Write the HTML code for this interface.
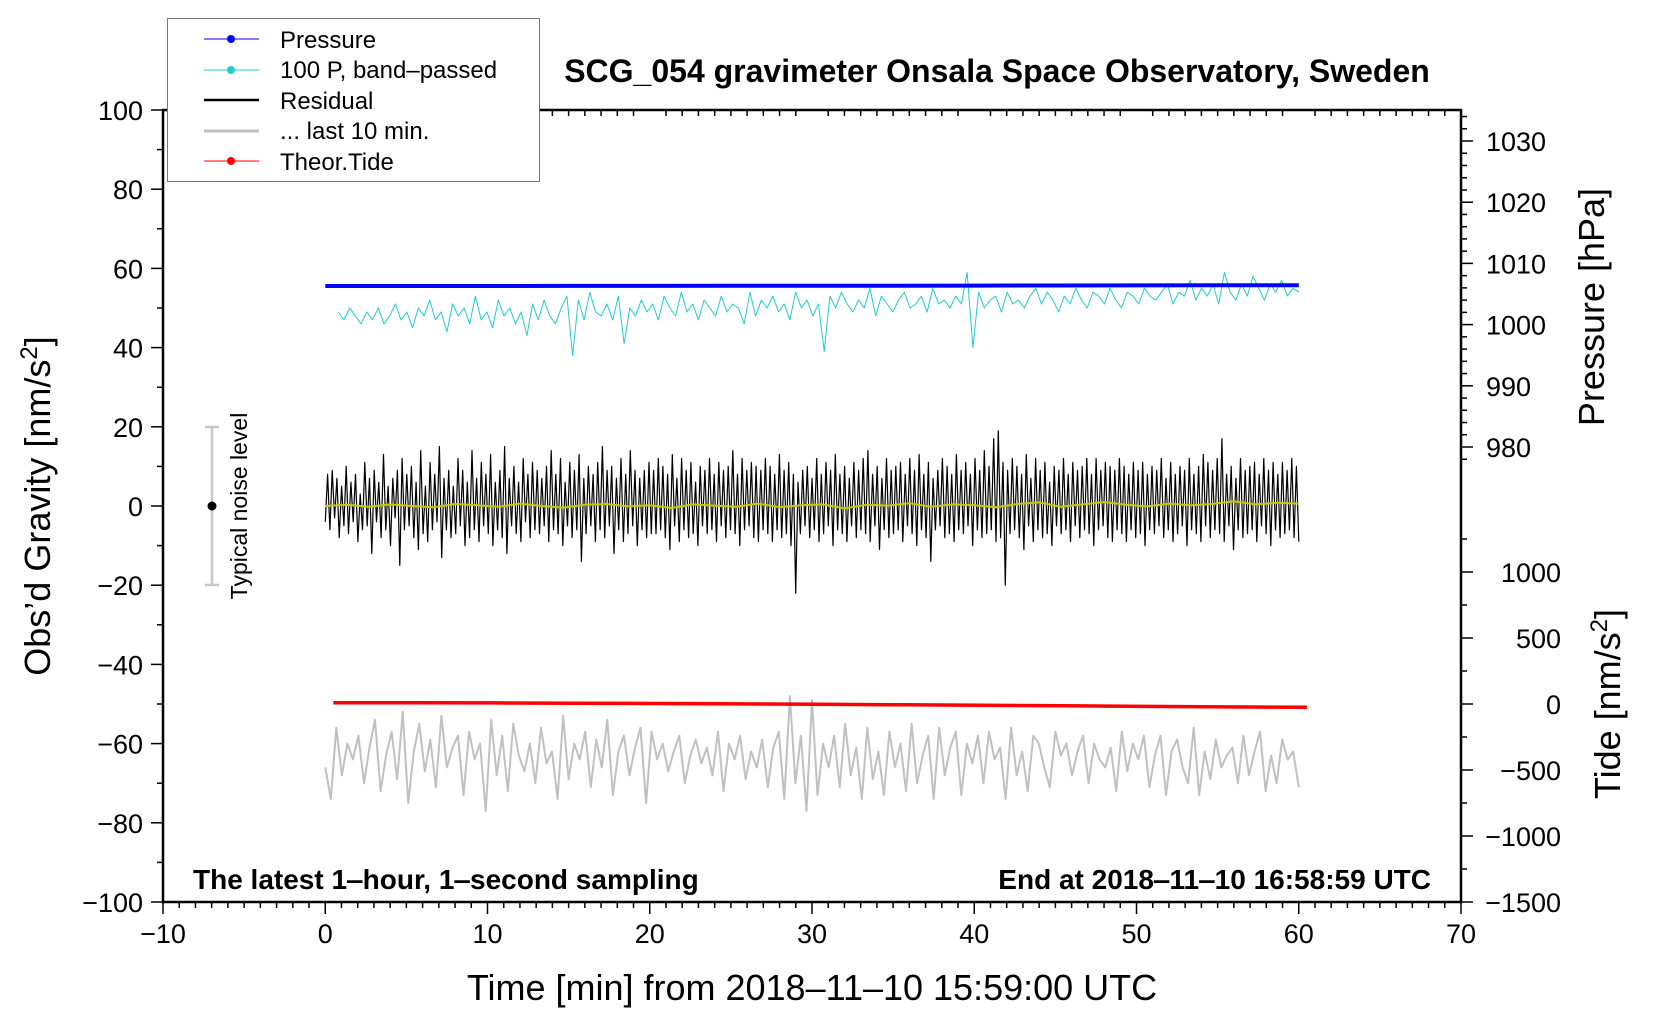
<!DOCTYPE html>
<html><head><meta charset="utf-8">
<style>
body{margin:0;background:#fff;}
svg{display:block;font-family:"Liberation Sans",sans-serif;}
</style></head>
<body>
<svg id="chart" width="1660" height="1020" viewBox="0 0 1660 1020">
<g id="marks"></g>
<g id="axes"></g>
<text x="997" y="82" font-size="32" font-weight="bold" text-anchor="middle">SCG_054 gravimeter Onsala Space Observatory, Sweden</text>
<text x="193" y="889" font-size="28" font-weight="bold">The latest 1‒hour, 1‒second sampling</text>
<text x="1431" y="889" font-size="28" font-weight="bold" text-anchor="end">End at 2018‒11‒10 16:58:59 UTC</text>
<text x="812" y="1000" font-size="36" text-anchor="middle">Time [min] from 2018‒11‒10 15:59:00 UTC</text>
<text transform="translate(50,506) rotate(-90)" font-size="36" text-anchor="middle">Obs’d Gravity [nm/s<tspan baseline-shift="super" font-size="24">2</tspan>]</text>
<text transform="translate(1604,307) rotate(-90)" font-size="36" text-anchor="middle">Pressure [hPa]</text>
<text transform="translate(1620,704) rotate(-90)" font-size="36" text-anchor="middle">Tide [nm/s<tspan baseline-shift="super" font-size="24">2</tspan>]</text>
<g>
<line x1="212" y1="427" x2="212" y2="585" stroke="#c8c8c8" stroke-width="2.5"/>
<line x1="205" y1="427" x2="219" y2="427" stroke="#c8c8c8" stroke-width="2.5"/>
<line x1="205" y1="585" x2="219" y2="585" stroke="#c8c8c8" stroke-width="2.5"/>
<circle cx="212" cy="506" r="4.5" fill="#000"/>
<text transform="translate(247,506) rotate(-90)" font-size="23" text-anchor="middle">Typical noise level</text>
</g>
<g>
<rect x="167.5" y="18.5" width="372" height="163" fill="#fff" stroke="#777" stroke-width="1"/>
<g><line x1="204" y1="39" x2="259" y2="39" stroke="#00f" stroke-width="1"/><circle cx="231" cy="39" r="4" fill="#00f"/><text x="280" y="48" font-size="24">Pressure</text></g>
<g><line x1="204" y1="70" x2="259" y2="70" stroke="#2cc" stroke-width="1"/><circle cx="231" cy="70" r="4" fill="#2cc"/><text x="280" y="78" font-size="24">100 P, band‒passed</text></g>
<g><line x1="204" y1="100" x2="259" y2="100" stroke="#000" stroke-width="2.5"/><text x="280" y="109" font-size="24">Residual</text></g>
<g><line x1="204" y1="131" x2="259" y2="131" stroke="#c0c0c0" stroke-width="3"/><text x="280" y="139" font-size="24">... last 10 min.</text></g>
<g><line x1="204" y1="161" x2="259" y2="161" stroke="#f00" stroke-width="1"/><circle cx="231" cy="161" r="4" fill="#f00"/><text x="280" y="170" font-size="24">Theor.Tide</text></g>
</g>
</svg>
<script>
const xTicks=[-10,0,10,20,30,40,50,60,70];
const yTicks=[100,80,60,40,20,0,-20,-40,-60,-80,-100];
const pTicks=[1030,1020,1010,1000,990,980];
const tTicks=[1000,500,0,-500,-1000,-1500];
const pressure=[1006.30,1006.31,1006.31,1006.32,1006.33,1006.34,1006.35,1006.36,1006.37,1006.39,1006.40,1006.42,1006.43];
const tide=[10,9,8,6,4,1,-2,-6,-10,-14,-18,-22,-25];
const residual=[-4,8,-6,9,-3,7,-8,5,-5,10,-7,6,-4,8,-9,3,-6,11,-5,7,-12,9,-4,6,-8,13,-6,5,-10,7,-3,9,-15,12,-6,8,-5,10,-8,6,-11,14,-7,5,-9,11,-6,8,-4,15,-13,7,-6,9,-8,5,-7,12,-5,9,-10,6,-8,14,-6,7,-9,11,-5,8,-7,13,-10,6,-6,9,-8,15,-12,7,-5,10,-7,6,-9,12,-4,8,-8,11,-6,9,-7,7,-5,10,-9,14,-6,8,-7,12,-10,6,-5,11,-8,9,-6,13,-14,7,-7,10,-5,8,-9,11,-6,15,-8,9,-5,10,-12,7,-6,12,-9,8,-7,14,-5,9,-10,7,-6,9,-8,11,-7,9,-7,12,-6,10,-8,8,-11,13,-5,7,-9,12,-6,9,-8,11,-7,6,-10,10,-5,9,-7,12,-6,8,-9,11,-5,9,-8,10,-6,14,-7,8,-10,12,-6,9,-5,11,-8,10,-9,9,-6,12,-7,10,-9,8,-6,13,-8,9,-7,11,-10,8,-22,6,-7,9,-5,10,-8,7,-6,12,-9,8,-7,11,-5,9,-10,13,-6,8,-7,10,-9,7,-5,11,-8,9,-6,12,-7,14,-9,8,-5,10,-11,7,-6,12,-8,9,-7,10,-6,11,-9,8,-5,12,-7,9,-10,13,-6,8,-8,11,-14,7,-6,9,-5,12,-8,10,-7,8,-9,13,-6,9,-7,11,-5,8,-10,12,-6,9,-8,14,-7,10,-6,17,-9,19,-8,11,-20,9,-7,12,-6,10,-8,8,-11,13,-5,7,-9,12,-6,9,-8,11,-7,6,-10,10,-5,9,-7,12,-6,8,-9,11,-5,9,-8,10,-6,12,-7,8,-10,12,-6,9,-5,11,-8,10,-9,9,-6,12,-7,10,-9,8,-6,11,-8,9,-7,11,-10,8,-6,10,-7,9,-5,12,-8,7,-6,11,-9,8,-7,10,-5,9,-10,12,-6,8,-7,10,-9,13,-5,11,-8,9,-6,12,-7,17,-9,8,-5,10,-11,7,-6,12,-8,9,-7,10,-6,11,-9,8,-5,12,-7,9,-10,11,-6,8,-8,11,-7,9,-6,12,-8,10,-9];
const smooth=[0,0.3,-0.2,0.4,0,-0.3,0.5,0.2,-0.2,0.6,0,-0.4,0.3,0.5,-0.1,0.2,-0.5,0.4,0.1,-0.2,0.6,-0.3,0.2,0.4,-0.6,0.3,0.1,0.7,-0.2,0.4,0.2,-0.3,0.5,0.9,-0.2,0.4,1,0.3,-0.1,0.6,0.2,0.5,1.2,0.4,0.8,0.6];
const bandpassed=[49,47,50,48,46,49,47,50,46,48,51,47,49,45,50,48,52,47,49,44,51,48,50,46,53,47,49,45,52,48,50,46,49,43,51,47,52,48,46,50,53,38,52,47,54,49,48,51,47,53,41,50,48,52,49,51,47,53,50,48,54,49,51,47,52,50,48,53,49,51,50,46,54,48,52,50,53,49,51,47,54,50,52,48,51,39,53,50,54,51,49,52,50,55,48,53,51,49,52,54,50,51,53,49,55,51,52,50,53,51,59,40,54,50,52,53,49,54,51,52,50,53,55,51,54,52,49,53,51,55,52,50,54,53,51,55,52,50,54,53,51,55,53,52,54,56,51,54,53,57,52,55,53,56,51,59,54,52,56,53,58,55,52,56,54,57,53,55,54];
const lastTen=[-66,-74,-56,-68,-60,-64,-58,-70,-61,-54,-72,-63,-57,-69,-52,-75,-62,-55,-67,-59,-71,-53,-66,-61,-58,-73,-57,-64,-60,-77,-54,-68,-58,-72,-55,-63,-67,-60,-70,-56,-65,-62,-74,-53,-69,-60,-64,-57,-71,-59,-66,-54,-73,-62,-58,-68,-61,-56,-75,-57,-64,-60,-67,-62,-58,-70,-63,-59,-65,-61,-68,-57,-72,-60,-64,-58,-69,-62,-66,-59,-71,-61,-57,-74,-48,-70,-58,-77,-49,-73,-60,-66,-58,-71,-55,-68,-61,-74,-56,-69,-62,-73,-57,-66,-60,-72,-55,-70,-63,-58,-74,-56,-68,-61,-57,-73,-60,-65,-58,-70,-57,-64,-61,-74,-56,-68,-62,-72,-58,-60,-66,-71,-57,-63,-60,-68,-62,-58,-70,-60,-64,-66,-61,-72,-57,-67,-60,-64,-58,-71,-63,-58,-73,-62,-59,-66,-70,-56,-73,-62,-69,-59,-66,-63,-61,-70,-58,-68,-62,-57,-72,-63,-70,-59,-64,-62,-71];
const NS="http://www.w3.org/2000/svg";
const L=163,R=1461,T=110,B=902;
const xs=v=>L+(v+10)*(R-L)/80;
const ys=v=>T+(100-v)*(B-T)/200;
const ps=v=>141+(1030-v)*6.12;
const ts=v=>704-v*0.132;
const marks=document.getElementById('marks'),axes=document.getElementById('axes');
function mk(tag,attrs,parent){const e=document.createElementNS(NS,tag);for(const k in attrs)e.setAttribute(k,attrs[k]);parent.appendChild(e);return e;}
function series(arr,t0,t1,fy,color,w,name){
  const n=arr.length;const pts=arr.map((v,i)=>xs(t0+(t1-t0)*i/(n-1)).toFixed(1)+','+fy(v).toFixed(1)).join(' ');
  const e=mk('polyline',{points:pts,fill:'none',stroke:color,'stroke-width':w,'stroke-linejoin':'round'},marks);
  
  
}
series(lastTen,0,60,ys,'#c0c0c0',2,'last-10-min-line');
series(bandpassed,0.8,60,ys,'#2cc',1,'bandpassed-pressure-line');
series(residual,0,60,ys,'#000',1.2,'residual-line');
series(smooth,0,60,ys,'#c8c800',2,'residual-smoothed-line');
series(pressure,0,60,ps,'#00f',4,'pressure-line');
series(tide,0.5,60.5,ts,'#f00',3.5,'tide-line');
const fr=mk('rect',{x:L,y:T,width:R-L,height:B-T,fill:'none',stroke:'#000','stroke-width':2.5},axes);


for(let v=-10;v<=70;v++){const big=v%10===0;
  mk('line',{x1:xs(v),x2:xs(v),y1:B,y2:B+(big?12:6),stroke:'#000','stroke-width':1.5},axes);
  mk('line',{x1:xs(v),x2:xs(v),y1:T,y2:T+(big?0:6),stroke:'#000','stroke-width':1.5},axes);}
xTicks.forEach(v=>{const t=mk('text',{x:xs(v),y:B+41,'font-size':27,'text-anchor':'middle'},axes);t.textContent=v<0?'\u2212'+(-v):v;
  
  });
for(let v=-100;v<=100;v+=10){mk('line',{x1:L-(v%20===0?12:6),x2:L,y1:ys(v),y2:ys(v),stroke:'#000','stroke-width':1.5},axes);}
yTicks.forEach(v=>{const t=mk('text',{x:L-20,y:ys(v)+10,'font-size':27,'text-anchor':'end'},axes);t.textContent=v<0?'\u2212'+(-v):v;
  
  });
for(let v=976;v<=1034;v+=2){const y=ps(v);if(y<T||y>470)continue;mk('line',{x1:R,x2:R+(v%10===0?12:6),y1:y,y2:y,stroke:'#000','stroke-width':1.5},axes);}
pTicks.forEach(v=>{const t=mk('text',{x:R+25,y:ps(v)+10,'font-size':27},axes);t.textContent=v;
  
  });
for(let v=-1500;v<=1250;v+=250){const y=ts(v);if(y>B)continue;mk('line',{x1:R,x2:R+(v%500===0?12:6),y1:y,y2:y,stroke:'#000','stroke-width':1.5},axes);}
tTicks.forEach(v=>{const t=mk('text',{x:1561,y:ts(v)+10,'font-size':27,'text-anchor':'end'},axes);t.textContent=v<0?'\u2212'+(-v):v;
  
  });
</script>
</body></html>
